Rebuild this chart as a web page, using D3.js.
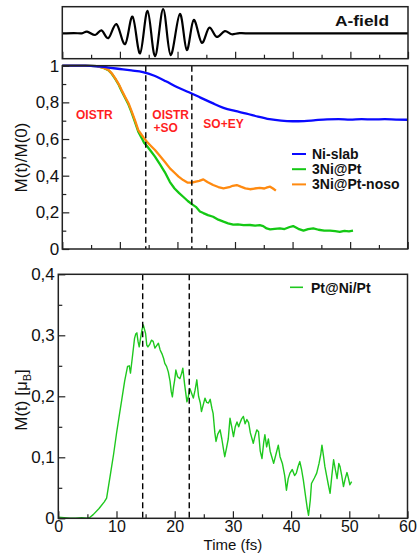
<!DOCTYPE html>
<html>
<head>
<meta charset="utf-8">
<script src="https://cdn.jsdelivr.net/npm/d3@7"></script>
<style>
  body { margin: 0; background: #fff; }
  text { font-family: "Liberation Sans", Arial, Helvetica, sans-serif; fill: #111; }
</style>
</head>
<body>
<div id="chart"></div>
<script>
// A-field pulse (read at its turning points)
var aTime  = [0, 2, 3.4, 4.3, 5.7, 6.8, 8.0, 9.4, 10.9, 12.2, 13.5, 14.8, 16.1, 17.5, 18.8, 20.4, 21.6, 22.8, 24.2, 25.5, 26.8, 28.2, 29.4, 30.8, 33, 45, 60];
var aValue = [0, 0.01, 0, 0.07, -0.07, 0.12, -0.2, 0.38, -0.45, 0.69, -0.83, 0.93, -0.95, 1.0, -0.9, 0.8, -0.69, 0.55, -0.39, 0.23, -0.15, 0.09, -0.04, 0.01, 0, 0, 0];

// M(t)/M(0)
var niTime  = [0, 4, 6, 8, 10, 12, 14, 16, 18, 20, 22, 24, 26, 28, 30, 32, 34, 36, 38, 40, 42, 44, 46, 48, 50, 52, 54, 56, 58, 60];
var niValue = [1, 1, 0.997, 0.99, 0.982, 0.974, 0.965, 0.945, 0.915, 0.882, 0.855, 0.826, 0.797, 0.77, 0.753, 0.739, 0.722, 0.708, 0.7, 0.697, 0.698, 0.703, 0.707, 0.708, 0.706, 0.708, 0.707, 0.708, 0.706, 0.705];

var ptTime  = [0, 4, 6, 7, 8, 8.6, 9.2, 9.8, 10.3, 10.9, 11.5, 12.0, 12.6, 13.2, 13.8, 14.2, 14.7, 15.4, 16.1, 17.0, 17.8, 18.7, 19.5, 20.3, 21.0, 21.8, 22.5, 23.2, 23.9, 24.5, 25.3, 26.2, 27.1, 28.0, 28.8, 29.7, 30.5, 31.5, 32.6, 33.5, 34.3, 34.9, 35.5, 36.1, 36.9, 37.8, 38.6, 39.5, 40.1, 41.0, 41.9, 42.7, 43.6, 44.5, 45.5, 46.5, 47.4, 48.2, 49.0, 49.8, 50.5];
var ptValue = [1, 1, 0.998, 0.99, 0.976, 0.956, 0.928, 0.896, 0.862, 0.825, 0.788, 0.748, 0.695, 0.64, 0.605, 0.58, 0.562, 0.533, 0.504, 0.46, 0.42, 0.365, 0.33, 0.305, 0.285, 0.262, 0.245, 0.23, 0.205, 0.196, 0.185, 0.176, 0.16, 0.149, 0.14, 0.133, 0.134, 0.13, 0.131, 0.128, 0.13, 0.125, 0.112, 0.107, 0.11, 0.113, 0.109, 0.12, 0.125, 0.11, 0.1, 0.108, 0.113, 0.105, 0.1, 0.1, 0.097, 0.094, 0.099, 0.096, 0.1];

var nosoTime  = [0, 4, 6, 7, 8, 8.6, 9.2, 9.8, 10.3, 10.9, 11.5, 12.0, 12.6, 13.2, 13.8, 14.2, 14.7, 15.4, 16.1, 16.9, 17.8, 18.7, 19.5, 20.2, 21.0, 21.8, 22.5, 23.2, 23.8, 24.5, 25.2, 26.2, 27.1, 28.0, 29.0, 29.6, 30.3, 31.0, 31.8, 32.6, 33.4, 34.3, 35.1, 35.6, 36.1, 36.6, 37.1];
var nosoValue = [1, 1, 0.998, 0.99, 0.977, 0.958, 0.931, 0.9, 0.867, 0.83, 0.795, 0.755, 0.704, 0.649, 0.622, 0.605, 0.585, 0.562, 0.54, 0.51, 0.476, 0.44, 0.416, 0.395, 0.376, 0.362, 0.362, 0.368, 0.372, 0.38, 0.366, 0.349, 0.338, 0.331, 0.337, 0.345, 0.349, 0.34, 0.331, 0.326, 0.33, 0.333, 0.33, 0.336, 0.34, 0.33, 0.318];

// M(t) of Pt@Ni/Pt in muB
var ptniTime  = [0, 1, 2, 3, 4, 5, 5.5, 6, 7, 7.9, 8.3, 9, 9.5, 10, 10.5, 10.9, 11.4, 11.9, 12.2, 12.4, 12.7, 13.1, 13.3, 13.5, 13.7, 13.9, 14.2, 14.4, 14.6, 14.8, 15.0, 15.2, 15.4, 15.7, 16.0, 16.3, 16.6, 16.9, 17.2, 17.5, 17.8, 18.1, 18.3, 18.6, 18.9, 19.2, 19.4, 19.6, 19.8, 20.0, 20.2, 20.5, 20.9, 21.2, 21.4, 21.7, 22.1, 22.3, 22.6, 22.9, 23.2, 23.5, 23.8, 24.1, 24.4, 24.6, 24.9, 25.2, 25.5, 25.8, 26.1, 26.4, 26.6, 26.9, 27.1, 27.4, 27.8, 28.1, 28.4, 28.6, 28.9, 29.2, 29.5, 29.8, 30.1, 30.4, 30.7, 31.0, 31.2, 31.5, 31.8, 32.1, 32.4, 32.7, 33.0, 33.3, 33.5, 33.8, 34.1, 34.4, 34.7, 35.0, 35.3, 35.5, 35.8, 36.1, 36.4, 36.7, 37.0, 37.4, 37.8, 38.1, 38.5, 38.9, 39.2, 39.5, 39.8, 40.2, 40.6, 40.9, 41.2, 41.5, 41.8, 42.1, 42.5, 42.8, 43.0, 43.3, 43.5, 44.0, 44.4, 44.8, 45.1, 45.3, 45.6, 45.8, 46.1, 46.4, 46.7, 47.0, 47.3, 47.6, 47.9, 48.2, 48.4, 48.7, 49.0, 49.3, 49.6, 49.8, 50.1, 50.4];
var ptniValue = [0.002, 0.001, 0, 0, 0.001, 0, 0.002, 0.006, 0.016, 0.027, 0.033, 0.075, 0.105, 0.139, 0.17, 0.194, 0.225, 0.249, 0.25, 0.238, 0.262, 0.295, 0.302, 0.304, 0.29, 0.281, 0.299, 0.31, 0.317, 0.31, 0.303, 0.284, 0.281, 0.285, 0.292, 0.29, 0.279, 0.283, 0.287, 0.276, 0.27, 0.262, 0.254, 0.249, 0.24, 0.225, 0.208, 0.199, 0.215, 0.227, 0.243, 0.232, 0.229, 0.238, 0.246, 0.22, 0.191, 0.198, 0.213, 0.205, 0.197, 0.21, 0.227, 0.2, 0.189, 0.175, 0.186, 0.197, 0.19, 0.189, 0.195, 0.18, 0.172, 0.14, 0.126, 0.138, 0.145, 0.13, 0.112, 0.101, 0.115, 0.13, 0.164, 0.15, 0.134, 0.15, 0.158, 0.15, 0.156, 0.163, 0.167, 0.155, 0.162, 0.157, 0.14, 0.13, 0.123, 0.135, 0.145, 0.142, 0.11, 0.098, 0.125, 0.137, 0.117, 0.13, 0.11, 0.1, 0.09, 0.105, 0.12, 0.101, 0.09, 0.07, 0.046, 0.065, 0.074, 0.08, 0.07, 0.074, 0.085, 0.093, 0.08, 0.063, 0.035, 0.015, 0.005, 0.03, 0.057, 0.066, 0.074, 0.09, 0.105, 0.12, 0.1, 0.085, 0.07, 0.055, 0.041, 0.07, 0.096, 0.08, 0.065, 0.09, 0.085, 0.07, 0.052, 0.065, 0.075, 0.068, 0.055, 0.06];

var regimeTimes = [14.5, 22.5];
var midTicks = [0, 0.2, 0.4, 0.6, 0.8, 1];
var botTicks = [0, 0.1, 0.2, 0.3, 0.4];
var timeTicks = [0, 10, 20, 30, 40, 50, 60];

var svg = d3.select('#chart').append('svg')
    .attr('width', 418)
    .attr('height', 553);

function zip(t, v) {
    return t.map(function (d, i) { return { t: d, v: v[i] }; });
}
function comma(d) {
    return String(+d.toFixed(1)).replace('.', ',');
}

// scales
var xTop = d3.scaleLinear().domain([0, 60]).range([62.3, 408]);
var yA = d3.scaleLinear().domain([-1.05, 1.1]).range([58.7, 6.7]);
var xMid = d3.scaleLinear().domain([0, 60]).range([62.3, 407.7]);
var yMid = d3.scaleLinear().domain([0, 1]).range([249, 65.7]);
var xBot = d3.scaleLinear().domain([0, 60]).range([58.3, 407.5]);
var yBot = d3.scaleLinear().domain([0, 0.4]).range([518.3, 274.3]);

function frame(x, y) {
    svg.append('rect')
        .attr('x', x.range()[0])
        .attr('y', y.range()[1])
        .attr('width', x.range()[1] - x.range()[0])
        .attr('height', y.range()[0] - y.range()[1])
        .attr('fill', 'none')
        .attr('stroke', '#222')
        .attr('stroke-width', 1.5);
}

function xTicks(x, y, labels) {
    var g = svg.append('g').attr('transform', 'translate(0,' + y.range()[0] + ')');
    g.call(d3.axisBottom(x).tickValues(d3.range(5, 60, 10)).tickSizeInner(-4).tickSizeOuter(0).tickFormat(''));
    var g2 = svg.append('g').attr('transform', 'translate(0,' + y.range()[0] + ')');
    g2.call(d3.axisBottom(x).tickValues(timeTicks).tickSizeInner(-7).tickSizeOuter(0).tickPadding(2.5)
        .tickFormat(labels ? d3.format('d') : ''));
    g2.selectAll('text').style('font-size', '16px').attr('fill', '#111');
    [g, g2].forEach(function (s) {
        s.select('.domain').remove();
        s.selectAll('line').attr('stroke', '#222').attr('stroke-width', 1.2);
    });
}

function yTicks(x, y, ticks, minor, pad) {
    var g = svg.append('g').attr('transform', 'translate(' + x.range()[0] + ',0)');
    g.call(d3.axisLeft(y).tickValues(minor).tickSizeInner(-4).tickSizeOuter(0).tickFormat(''));
    var g2 = svg.append('g').attr('transform', 'translate(' + x.range()[0] + ',0)');
    g2.call(d3.axisLeft(y).tickValues(ticks).tickSizeInner(-7).tickSizeOuter(0).tickPadding(pad).tickFormat(comma));
    g2.selectAll('text').style('font-size', '17px').attr('fill', '#111');
    [g, g2].forEach(function (s) {
        s.select('.domain').remove();
        s.selectAll('line').attr('stroke', '#222').attr('stroke-width', 1.2);
    });
}

////////////////////////////////
// A-field panel
var lineA = d3.line()
    .x(function (d) { return xTop(d.t); })
    .y(function (d) { return yA(d.v); })
    .curve(d3.curveCardinal);
svg.append('path')
    .datum(zip(aTime, aValue))
    .attr('d', lineA)
    .attr('fill', 'none')
    .attr('stroke', '#000')
    .attr('stroke-width', 2.2);
xTicks(xTop, yA, false);
frame(xTop, yA);
svg.append('text')
    .attr('x', 335).attr('y', 26)
    .attr('textLength', 54).attr('lengthAdjust', 'spacingAndGlyphs')
    .style('font-size', '14px').style('font-weight', 'bold')
    .text('A-field');

////////////////////////////////
// middle panel
var lineMid = d3.line()
    .x(function (d) { return xMid(d.t); })
    .y(function (d) { return yMid(d.v); });

var midSeries = [
    { name: 'Ni-slab', t: niTime, v: niValue, color: '#0a0aff' },
    { name: '3Ni@Pt', t: ptTime, v: ptValue, color: '#14c814' },
    { name: '3Ni@Pt-noso', t: nosoTime, v: nosoValue, color: '#ff8a10' }
];

// green first, orange over it, blue on top
[midSeries[1], midSeries[2], midSeries[0]].forEach(function (s) {
    svg.append('path')
        .datum(zip(s.t, s.v))
        .attr('d', lineMid.curve(s.name === 'Ni-slab' ? d3.curveMonotoneX : d3.curveLinear))
        .attr('fill', 'none')
        .attr('stroke', s.color)
        .attr('stroke-width', 2.3)
        .attr('stroke-linejoin', 'round');
});

regimeTimes.forEach(function (t) {
    svg.append('line')
        .attr('x1', xMid(t)).attr('x2', xMid(t))
        .attr('y1', yMid(1)).attr('y2', yMid(0))
        .attr('stroke', '#000').attr('stroke-width', 1.4)
        .attr('stroke-dasharray', '6,3.5');
});

xTicks(xMid, yMid, false);
yTicks(xMid, yMid, midTicks, d3.range(0.1, 1, 0.2), 3);
frame(xMid, yMid);

// regime labels
var red = '#ff1f1f';
[['OISTR', 76, 118.5], ['OISTR', 152.3, 118.5], ['+SO', 153.5, 132.3], ['SO+EY', 203.3, 128.3]].forEach(function (l) {
    svg.append('text')
        .attr('x', l[1]).attr('y', l[2])
        .style('font-size', '12px').style('font-weight', 'bold')
        .style('fill', red)
        .text(l[0]);
});

// legend
midSeries.forEach(function (s, i) {
    var yy = 154 + i * 15.2;
    svg.append('line')
        .attr('x1', 292).attr('x2', 306)
        .attr('y1', yy).attr('y2', yy)
        .attr('stroke', s.color).attr('stroke-width', 2);
    svg.append('text')
        .attr('x', 312).attr('y', yy + 5)
        .style('font-size', '14px').style('font-weight', 'bold')
        .text(s.name);
});

svg.append('text')
    .attr('transform', 'translate(27,' + 157.5 + ') rotate(-90)')
    .attr('text-anchor', 'middle')
    .style('font-size', '17px')
    .text('M(t)/M(0)');

////////////////////////////////
// bottom panel
var lineBot = d3.line()
    .x(function (d) { return xBot(d.t); })
    .y(function (d) { return yBot(d.v); });

svg.append('path')
    .datum(zip(ptniTime, ptniValue))
    .attr('d', lineBot)
    .attr('fill', 'none')
    .attr('stroke', '#1ec81e')
    .attr('stroke-width', 1.4)
    .attr('stroke-linejoin', 'round');

regimeTimes.forEach(function (t) {
    svg.append('line')
        .attr('x1', xBot(t)).attr('x2', xBot(t))
        .attr('y1', yBot(0.4)).attr('y2', yBot(0))
        .attr('stroke', '#000').attr('stroke-width', 1.4)
        .attr('stroke-dasharray', '6,3.5');
});

xTicks(xBot, yBot, true);
yTicks(xBot, yBot, botTicks, d3.range(0.05, 0.4, 0.1), 3.5);
frame(xBot, yBot);

svg.append('line')
    .attr('x1', 290).attr('x2', 303)
    .attr('y1', 287.3).attr('y2', 287.3)
    .attr('stroke', '#1ec81e').attr('stroke-width', 1.6);
svg.append('text')
    .attr('x', 311).attr('y', 292.5)
    .style('font-size', '14px').style('font-weight', 'bold')
    .text('Pt@Ni/Pt');

var yl = svg.append('text')
    .attr('transform', 'translate(27,' + 400 + ') rotate(-90)')
    .attr('text-anchor', 'middle')
    .style('font-size', '17px');
yl.append('tspan').text('M(t) [\u03bc');
yl.append('tspan').attr('dy', 4).style('font-size', '11px').text('B');
yl.append('tspan').attr('dy', -4).text(']');

svg.append('text')
    .attr('x', (xBot.range()[0] + xBot.range()[1]) / 2)
    .attr('y', 549.5)
    .attr('text-anchor', 'middle')
    .style('font-size', '15px')
    .text('Time (fs)');
</script>
</body>
</html>
